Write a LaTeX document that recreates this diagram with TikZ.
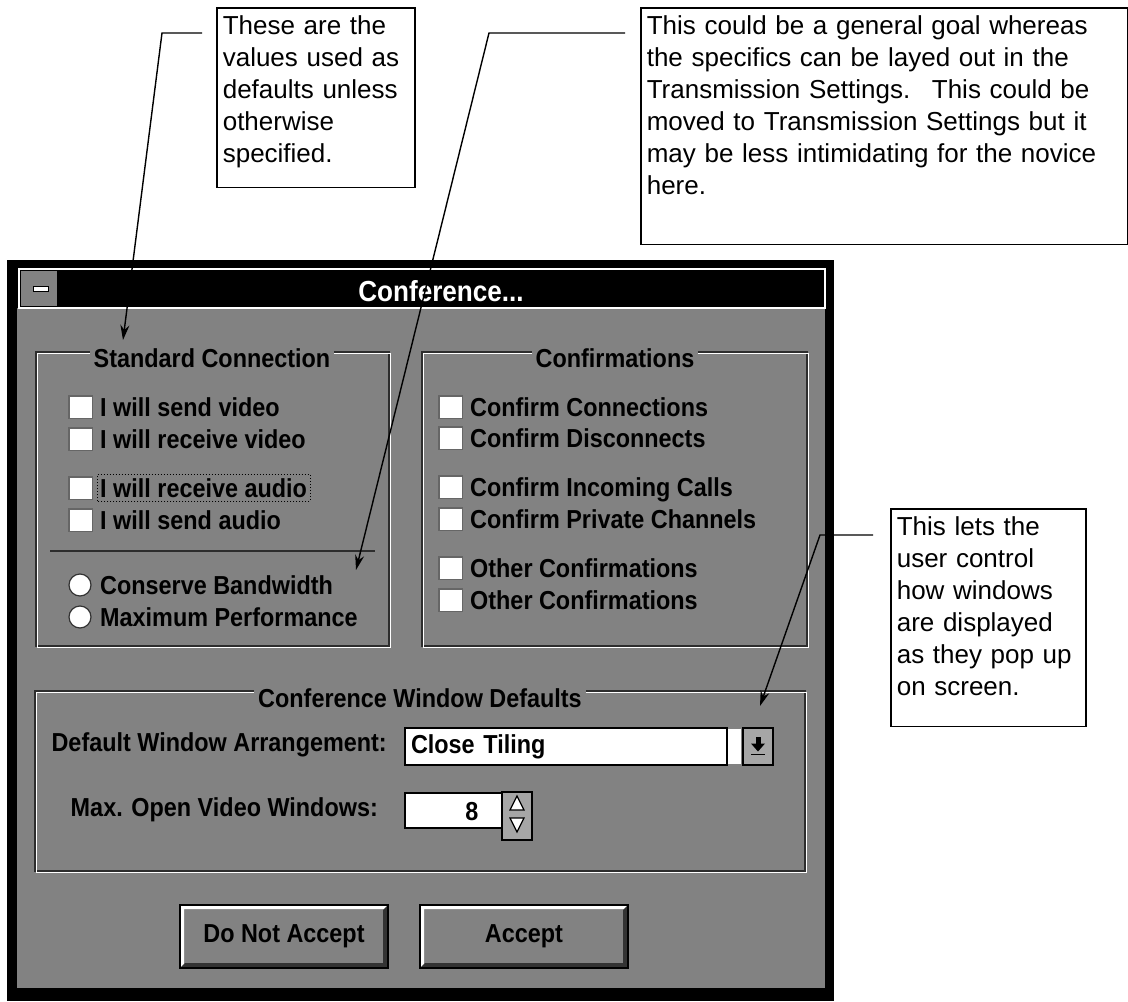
\documentclass[tikz,border=0pt]{standalone}
\usepackage{fontspec}
\setmainfont{Liberation Sans}
\newfontfamily\winfont[FakeStretch=0.9]{Liberation Sans}
\usetikzlibrary{arrows.meta,calc}
\definecolor{wingray}{RGB}{130,130,130}
\definecolor{etchgray}{RGB}{45,45,45}
\newcommand{\tail}[1]{\rule[-#1]{0pt}{#1}}

\begin{document}
\begin{tikzpicture}[x=1pt,y=-1pt,>={Stealth[length=15pt,width=9pt]},
    note/.style={draw,line width=1.6pt,fill=white,anchor=north west,align=left,
        inner xsep=6pt,inner ysep=8pt,font=\fontsize{26}{32}\selectfont},
    leader/.style={->,line width=1.4pt},
    dlg/.style={anchor=base west,inner sep=0pt,font=\winfont\bfseries\fontsize{26}{30}\selectfont},
    grptitle/.style={dlg,anchor=base,fill=wingray,inner xsep=4pt,inner ysep=2pt},
    field/.style={rectangle,draw=black,line width=1.2pt,fill=white,inner sep=0pt,
        font=\winfont\bfseries\fontsize{26}{30}\selectfont},
    cbox/.style={rectangle,draw=black!60,fill=white,minimum width=24pt,minimum height=23pt,inner sep=0pt,
        path picture={\draw[line width=3pt] (path picture bounding box.south west)
            |- (path picture bounding box.north east);}},
    radio/.style={circle,draw=black!80,line width=1.2pt,fill=white,minimum size=22pt,inner sep=0pt},
    spinbtn/.style={rectangle,draw=black,line width=1.2pt,fill=black!35,inner sep=0pt},
    pushbtn/.style={rectangle,draw=black,line width=2pt,fill=wingray,minimum width=208pt,
        minimum height=63pt,inner sep=0pt,font=\winfont\bfseries\fontsize{26}{30}\selectfont,
        path picture={
            \fill[white] (path picture bounding box.south west) -- (path picture bounding box.north west)
                -- (path picture bounding box.north east) -- ($(path picture bounding box.north east)+(-4pt,-4pt)$)
                -- ($(path picture bounding box.north west)+(4pt,-4pt)$) -- ($(path picture bounding box.south west)+(4pt,4pt)$) -- cycle;
            \fill[black!80] (path picture bounding box.south west) -- (path picture bounding box.south east)
                -- (path picture bounding box.north east) -- ($(path picture bounding box.north east)+(-5pt,-5pt)$)
                -- ($(path picture bounding box.south east)+(-5pt,5pt)$) -- ($(path picture bounding box.south west)+(5pt,5pt)$) -- cycle;}}]

\fill[white] (0,0) rectangle (1128,1002);
\useasboundingbox (0,0) rectangle (1128,1002);

% window frame and title bar
\fill[black] (7,260) rectangle (834,1001);
\fill[wingray] (17,308) rectangle (825,988);
\draw[white,line width=1.2pt] (19,269) rectangle (825,308);
\fill[wingray] (21,271) rectangle (57,306);
\draw[fill=white,line width=1pt] (33,286) rectangle (48,291);
\node[dlg,anchor=base,text=white,font=\winfont\bfseries\fontsize{29}{30}\selectfont] (title) at (441,301) {Conference...};

% group frames
\draw[etchgray,line width=1.3pt] (36,352) rectangle (389,646);
\draw[white,line width=1.3pt,shift={(1.5pt,-1.5pt)}] (36,352) rectangle (389,646);
\draw[etchgray,line width=1.3pt] (422,352) rectangle (807,646);
\draw[white,line width=1.3pt,shift={(1.5pt,-1.5pt)}] (422,352) rectangle (807,646);
\draw[etchgray,line width=1.3pt] (35,691) rectangle (805,871);
\draw[white,line width=1.3pt,shift={(1.5pt,-1.5pt)}] (35,691) rectangle (805,871);
\node[grptitle] (stdTitle) at (212,367) {Standard Connection};
\node[grptitle] (confTitle) at (615,367) {Confirmations};
\node[grptitle] (winTitle) at (420,707) {Conference Window Defaults};

% standard connection
\foreach \y/\lbl [count=\i] in {407/I will send video,439/I will receive video,
    488/I will receive audio,520/I will send audio}{
  \node[cbox] (sc\i) at (80,\y) {};
  \node[dlg] (sl\i) at (100,\y+9) {\lbl};
}
\draw[dotted,line width=1pt] ($(sl3.south west)+(-3pt,-4pt)$) rectangle ($(sl3.north east)+(3pt,3pt)$);
\draw[etchgray,line width=1.4pt] (50,551) -- (375,551);
\node[radio] (rb1) at (80,585) {};
\node[dlg] (rl1) at (100,594) {Conserve Bandwidth};
\node[radio] (rb2) at (80,617) {};
\node[dlg] (rl2) at (100,626) {Maximum Performance};

% confirmations
\foreach \y/\lbl [count=\i] in {407/Confirm Connections,438/Confirm Disconnects,
    487/Confirm Incoming Calls,519/Confirm Private Channels,
    568/Other Confirmations,600/Other Confirmations}{
  \node[cbox] (cc\i) at (450,\y) {};
  \node[dlg] (cl\i) at (470,\y+9) {\lbl};
}

% window defaults
\node[dlg,anchor=base east] (arrLbl) at (387,751) {Default Window Arrangement:};
\node[field,minimum height=37pt,text width=310pt,align=left,inner xsep=6pt] (arrBox) at (566,746.5) {Close Tiling};
\fill[white] (728,729) rectangle (741,764);
\node[spinbtn,minimum width=30pt,minimum height=37pt] (arrBtn) at (758,746.5) {};
\fill ($(arrBtn.center)+(-7pt,3pt)$) -- ++(14pt,0pt) -- ++(-7pt,-8pt) -- cycle;
\fill ($(arrBtn.center)+(-2.5pt,10pt)$) rectangle ($(arrBtn.center)+(2.5pt,3pt)$);
\draw[line width=1.5pt] ($(arrBtn.center)+(-7pt,-8pt)$) -- ($(arrBtn.center)+(7pt,-8pt)$);

\node[dlg,anchor=base east] (maxLbl) at (378,816) {Max. Open Video Windows:};
\node[field,minimum width=97pt,minimum height=35pt] (maxBox) at (453.5,810.5) {};
\node[dlg,anchor=base] (maxVal) at (472,820) {8};
\node[spinbtn,minimum width=30pt,minimum height=48pt] (maxSpin) at (517,816) {};
\draw[line width=1.2pt,fill=white] ($(maxSpin.center)+(0pt,20pt)$) -- ++(-7pt,-14pt) -- ++(14pt,0pt) -- cycle;
\draw[line width=1.2pt,fill=white] ($(maxSpin.center)+(0pt,-16pt)$) -- ++(-7pt,14pt) -- ++(14pt,0pt) -- cycle;

% push buttons
\node[pushbtn] (noBtn) at (284,936.5) {Do Not Accept};
\node[pushbtn] (okBtn) at (524,936.5) {Accept};

% annotation boxes
\node[note,text width=186pt] (noteStd) at (216,7)
  {These are the\\values used as\\defaults unless\\otherwise\\specified.\tail{17pt}};
\node[note,text width=475pt] (noteBw) at (640,7)
  {This could be a general goal whereas\\the specifics can be layed out in the\\Transmission Settings.~ This could be\\moved to Transmission Settings but it\\may be less intimidating for the novice\\here.\tail{42pt}};
\node[note,text width=183pt] (noteWin) at (890,508)
  {This lets the\\user control\\how windows\\are displayed\\as they pop up\\on screen.\tail{23pt}};

% leader lines
\coordinate (tipStd) at (123,340);
\coordinate (tipBw) at (356,570);
\coordinate (tipWin) at (760,706);
\draw[leader] (noteStd.north west) ++(-14,26) -- ++(-40,0) -- (tipStd);
\draw[leader] (noteBw.north west) ++(-15,26) -- ++(-136,0) -- (tipBw);
\draw[leader] (noteWin.north west) ++(-17,27) -- ++(-53,0) -- (tipWin);

\end{tikzpicture}
\end{document}
